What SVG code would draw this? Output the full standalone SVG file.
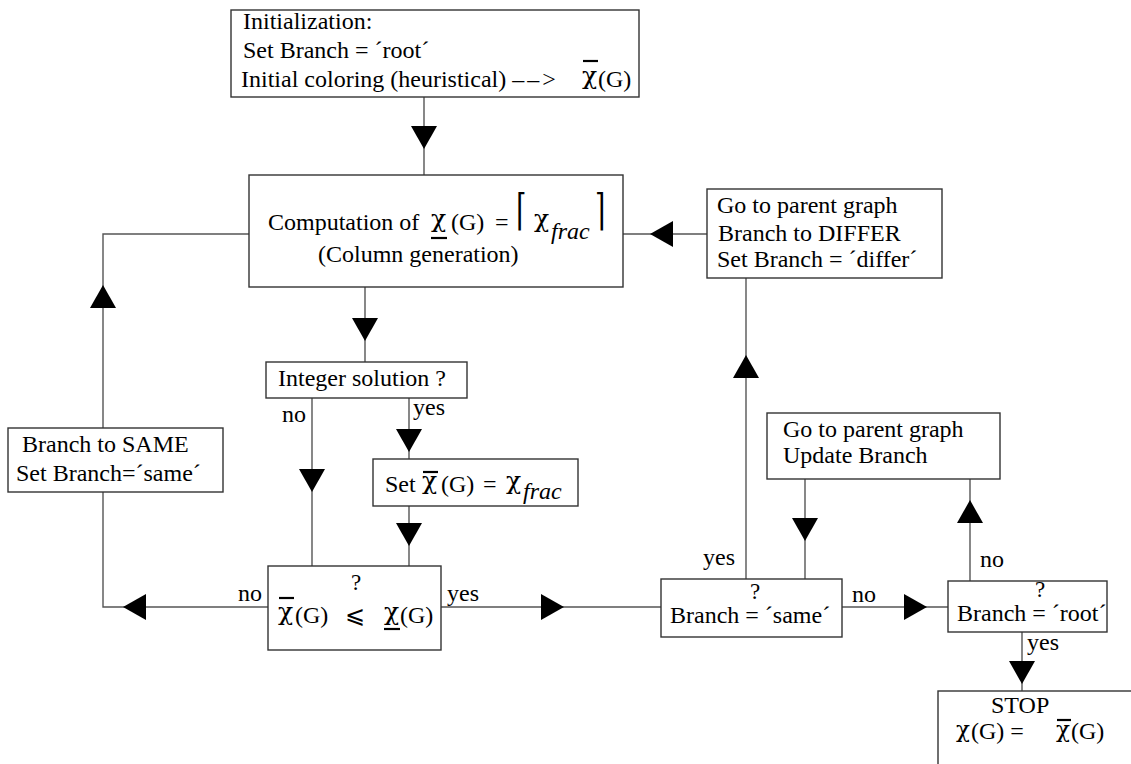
<svg xmlns="http://www.w3.org/2000/svg" xmlns:xlink="http://www.w3.org/1999/xlink" width="1131" height="764" viewBox="0 0 1131 764">
<style>
.box{fill:#fff;stroke:#333;stroke-width:1.4}
.ln{fill:none;stroke:#555;stroke-width:1.4}
.bar{stroke:#000;stroke-width:2.2}
text{font-family:"Liberation Serif","DejaVu Serif",serif;font-size:24px;fill:#000}
.it{font-style:italic}
.chi{font-family:"DejaVu Serif",serif;font-size:25px}
.chis{font-family:"DejaVu Serif",serif;font-size:23px}
.m{font-family:"DejaVu Serif","Liberation Serif",serif}
.q{font-size:23px}
</style>
<defs>
<path id="ah" d="M0,0 L-23,-13 L-23,13 Z" fill="#000"/>
</defs>
<rect width="1131" height="764" fill="#fff"/>

<g id="connectors">
<line class="ln" x1="424" y1="97" x2="424" y2="175"/>
<polyline class="ln" points="249,234 103,234 103,428"/>
<polyline class="ln" points="103,492 103,607 268,607"/>
<line class="ln" x1="707" y1="234" x2="623" y2="234"/>
<line class="ln" x1="365" y1="287" x2="365" y2="362"/>
<line class="ln" x1="312" y1="398" x2="312" y2="566"/>
<line class="ln" x1="409" y1="398" x2="409" y2="459"/>
<line class="ln" x1="409" y1="506" x2="409" y2="566"/>
<line class="ln" x1="441" y1="607" x2="661" y2="607"/>
<line class="ln" x1="746" y1="579" x2="746" y2="278"/>
<line class="ln" x1="805" y1="479" x2="805" y2="579"/>
<line class="ln" x1="842" y1="607" x2="948" y2="607"/>
<line class="ln" x1="970" y1="581" x2="970" y2="479"/>
<line class="ln" x1="1022" y1="632" x2="1022" y2="691"/>
<use xlink:href="#ah" transform="translate(424,149) rotate(90)"/>
<use xlink:href="#ah" transform="translate(103,285) rotate(-90)"/>
<use xlink:href="#ah" transform="translate(123,607) rotate(180)"/>
<use xlink:href="#ah" transform="translate(650,234) rotate(180)"/>
<use xlink:href="#ah" transform="translate(365,341) rotate(90)"/>
<use xlink:href="#ah" transform="translate(312,492) rotate(90)"/>
<use xlink:href="#ah" transform="translate(409,452) rotate(90)"/>
<use xlink:href="#ah" transform="translate(409,546) rotate(90)"/>
<use xlink:href="#ah" transform="translate(564,607)"/>
<use xlink:href="#ah" transform="translate(746,355) rotate(-90)"/>
<use xlink:href="#ah" transform="translate(805,541) rotate(90)"/>
<use xlink:href="#ah" transform="translate(927,607)"/>
<use xlink:href="#ah" transform="translate(970,500) rotate(-90)"/>
<use xlink:href="#ah" transform="translate(1022,684) rotate(90)"/>
<text x="282" y="422">no</text>
<text x="413" y="415">yes</text>
<text x="238" y="601">no</text>
<text x="447" y="601">yes</text>
<text x="703" y="565">yes</text>
<text x="852" y="602">no</text>
<text x="980" y="567">no</text>
<text x="1027" y="650">yes</text>
</g>

<g id="init">
<rect class="box" x="231" y="10" width="408" height="87"/>
<text x="243" y="29">Initialization:</text>
<text x="243" y="58">Set Branch = ´root´</text>
<text x="241" y="87">Initial coloring (heuristical) <tspan letter-spacing="3">––</tspan>&gt;</text>
<text x="582" y="84" class="chi">χ</text>
<text x="598" y="87">(G)</text>
<line class="bar" x1="583" y1="61" x2="598" y2="61"/>
</g>

<g id="computation">
<rect class="box" x="249" y="175" width="374" height="112"/>
<text x="268" y="230">Computation of</text>
<text x="431" y="227" class="chi">χ</text>
<text x="451" y="230">(G)</text>
<text x="495" y="230">=</text>
<line class="bar" x1="431" y1="238" x2="447" y2="238"/>
<text class="m" transform="translate(516,225) scale(1.1,1.8)" x="0" y="0" font-size="44">⌈</text>
<text x="534" y="227" class="chi">χ</text>
<text class="it" x="551" y="239">frac</text>
<text class="m" transform="translate(595,225) scale(1.1,1.8)" x="0" y="0" font-size="44">⌉</text>
<text x="318" y="262">(Column generation)</text>
</g>

<g id="differ">
<rect class="box" x="707" y="189" width="235" height="89"/>
<text x="717" y="213">Go to parent graph</text>
<text x="718" y="241">Branch to DIFFER</text>
<text x="717" y="267">Set Branch = ´differ´</text>
</g>

<g id="integer">
<rect class="box" x="266" y="362" width="201" height="36"/>
<text x="278" y="386">Integer solution ?</text>
</g>

<g id="setbound">
<rect class="box" x="373" y="459" width="205" height="47"/>
<text x="385" y="492">Set</text>
<text x="422" y="489" class="chi">χ</text>
<text x="441" y="492">(G)</text>
<text x="483" y="492">=</text>
<line class="bar" x1="423" y1="472" x2="438" y2="472"/>
<text x="506" y="489" class="chi">χ</text>
<text class="it" x="523" y="499">frac</text>
</g>

<g id="same">
<rect class="box" x="8" y="428" width="215" height="64"/>
<text x="22" y="452">Branch to SAME</text>
<text x="16" y="481">Set Branch=´same´</text>
</g>

<g id="compare">
<rect class="box" x="268" y="566" width="173" height="84"/>
<text x="278" y="620" class="chi">χ</text>
<text x="295" y="623">(G)</text>
<line class="bar" x1="279" y1="598" x2="294" y2="598"/>
<text class="q" x="351" y="590">?</text>
<text class="m" x="345" y="623">⩽</text>
<text x="384" y="620" class="chi">χ</text>
<text x="400" y="623">(G)</text>
<line class="bar" x1="384" y1="629" x2="400" y2="629"/>
</g>

<g id="update">
<rect class="box" x="767" y="413" width="233" height="66"/>
<text x="783" y="437">Go to parent graph</text>
<text x="783" y="463">Update Branch</text>
</g>

<g id="issame">
<rect class="box" x="661" y="579" width="181" height="58"/>
<text x="670" y="623">Branch = ´same´</text>
<text class="q" x="750" y="599">?</text>
</g>

<g id="isroot">
<rect class="box" x="948" y="581" width="159" height="51"/>
<text x="957" y="621">Branch = ´root´</text>
<text class="q" x="1035" y="597">?</text>
</g>

<g id="stop">
<rect class="box" x="938" y="691" width="220" height="100"/>
<text x="991" y="713">STOP</text>
<text x="956" y="737" class="chis">χ</text>
<text x="971" y="739">(G) =</text>
<text x="1056" y="737" class="chis">χ</text>
<text x="1071" y="739">(G)</text>
<line class="bar" x1="1057" y1="720" x2="1071" y2="720"/>
</g>
</svg>
